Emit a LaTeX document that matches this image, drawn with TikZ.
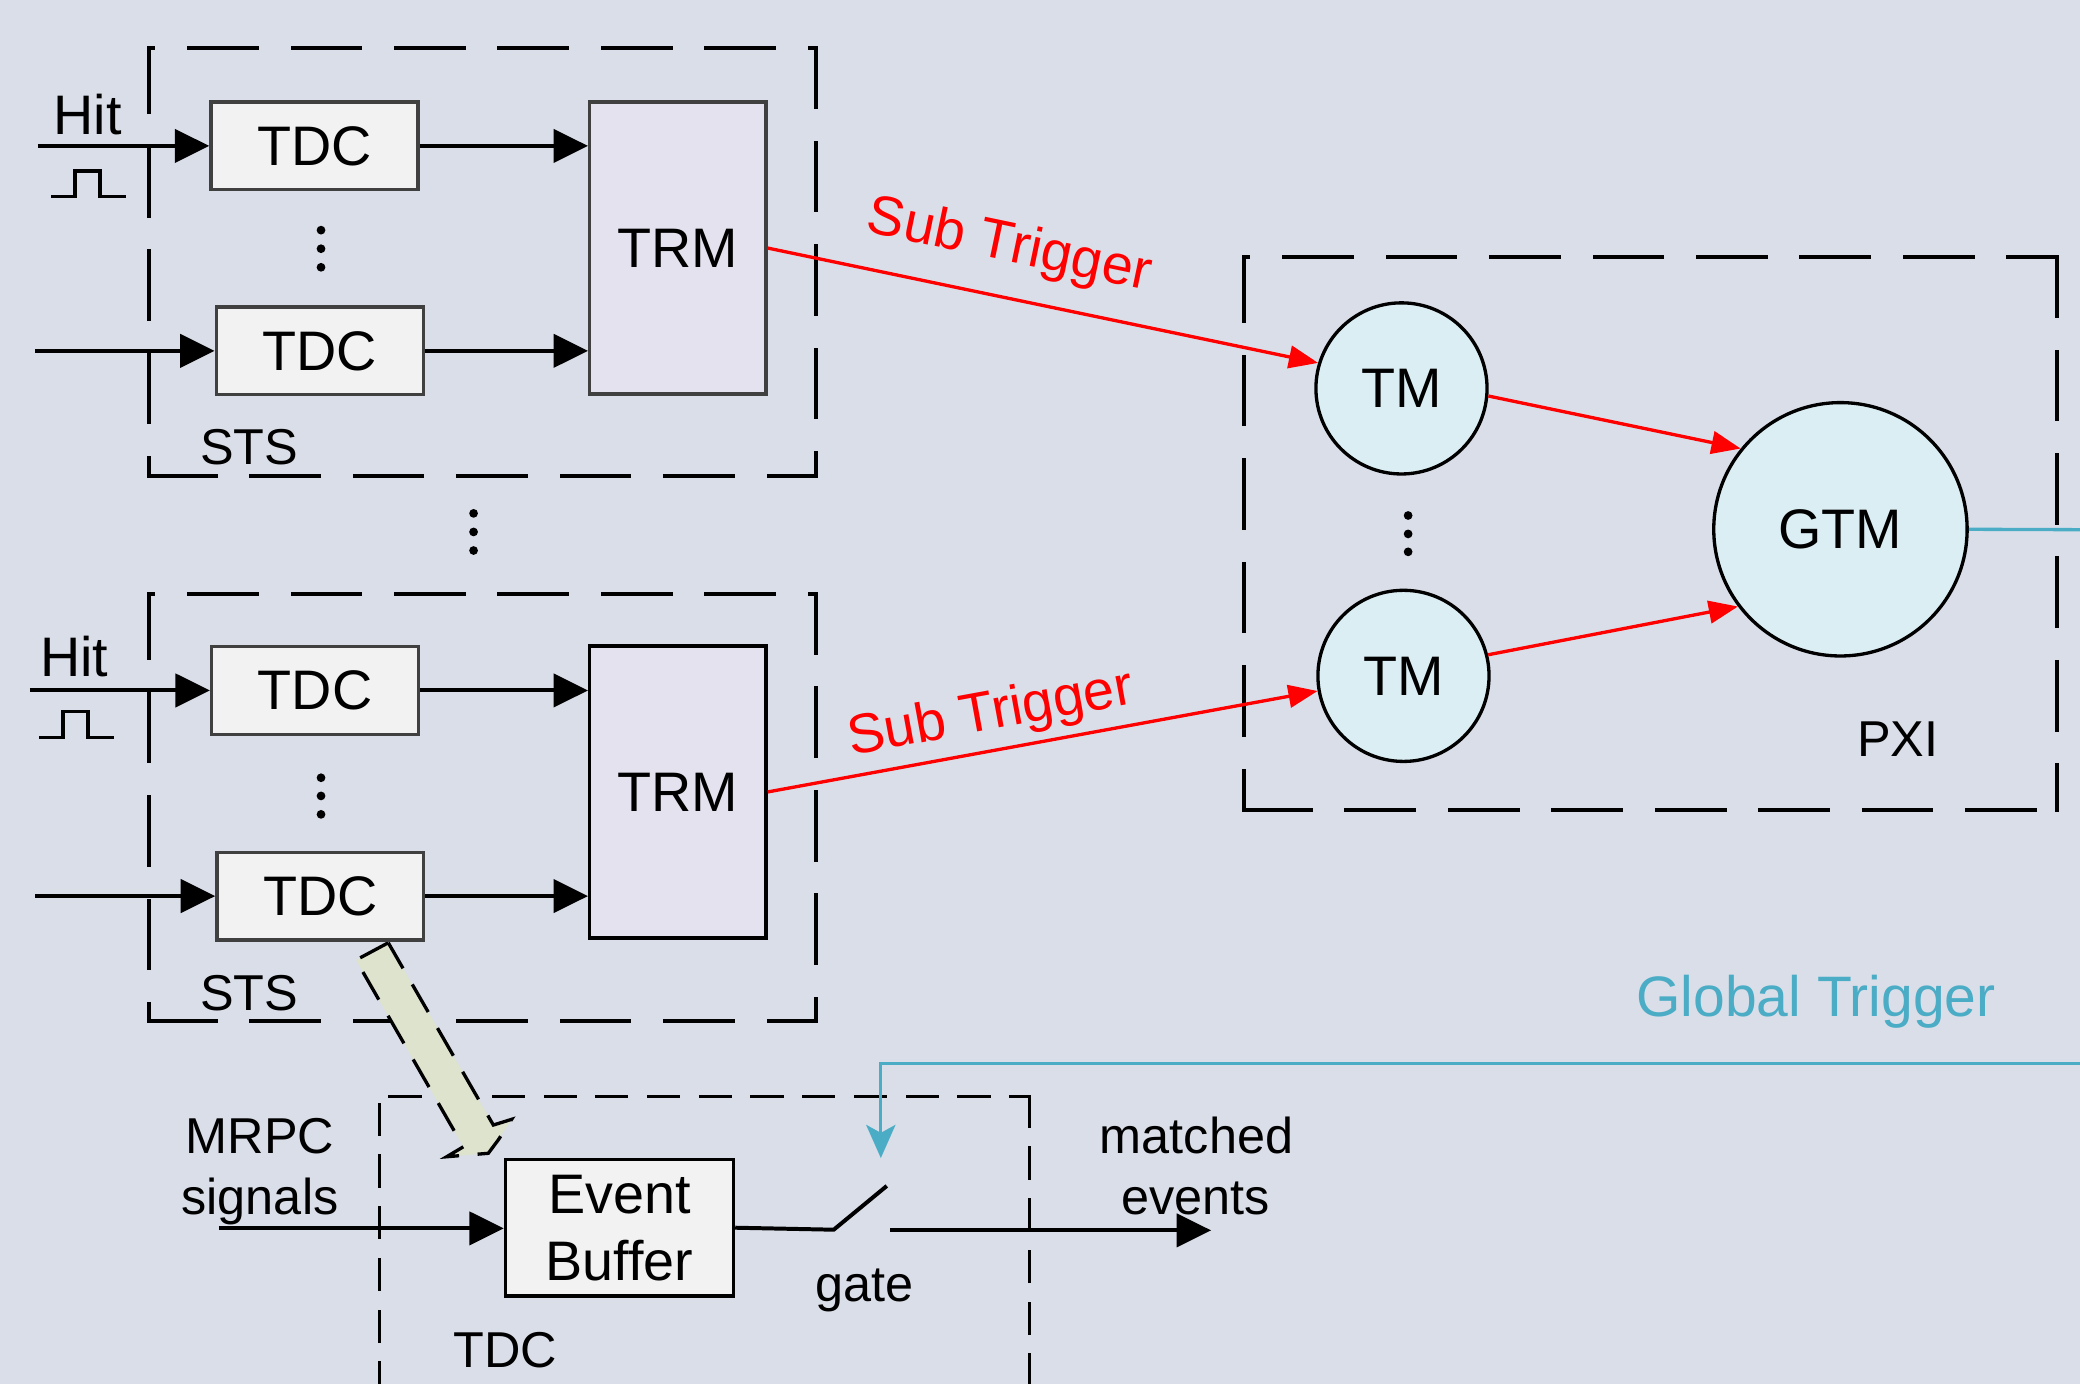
\documentclass[tikz,border=0pt]{standalone}
\usepackage{fontspec}
\setmainfont{Liberation Sans}
\usetikzlibrary{arrows.meta}
\definecolor{paper}{RGB}{218,222,232}
\definecolor{boxfill}{RGB}{242,242,242}
\definecolor{trmfill}{RGB}{228,226,238}
\definecolor{tmfill}{RGB}{219,238,244}
\definecolor{edgegray}{RGB}{64,64,64}
\definecolor{trigblue}{RGB}{75,172,198}
\definecolor{busfill}{RGB}{221,227,204}
\newcommand{\labelfont}{\fontsize{42}{50.4}\selectfont}
\newcommand{\notefont}{\fontsize{38}{45.6}\selectfont}
% a dashed frame whose four sides are dashed one by one
\newcommand{\dashframe}[5]{%
  \draw[#1, dash phase=48pt] (#2,#3) -- (#4,#3);
  \draw[#1, dash phase=3pt] (#2,#3) -- (#2,#5);
  \draw[#1, dash phase=7pt] (#4,#3) -- (#4,#5);
  \draw[#1, dash phase=1pt] (#2,#5) -- (#4,#5);
}
\begin{document}
\begin{tikzpicture}[x=1pt,y=-1pt,
  tdcbox/.style={draw=edgegray, fill=boxfill, line width=2.5pt, minimum width=156pt,
    minimum height=66pt, inner sep=0pt, font=\labelfont},
  trmbox/.style={draw=edgegray, fill=trmfill, line width=2.5pt, minimum width=133pt,
    minimum height=220pt, inner sep=0pt, font=\labelfont},
  tmnode/.style={circle, draw=black, fill=tmfill, line width=2.5pt, minimum size=129pt,
    inner sep=0pt, font=\labelfont},
  gtmnode/.style={tmnode, minimum size=191pt},
  sig/.style={line width=3pt, -{Triangle[length=26pt,width=25pt]}},
  wire/.style={line width=3pt},
  subtrig/.style={red, line width=2.5pt, -{Triangle[length=22pt,width=17pt]}},
  sublabel/.style={sloped, inner sep=0pt, font=\labelfont, text=red},
  trigline/.style={trigblue, line width=2.5pt},
  grpbox/.style={line width=3pt, line cap=rect, dash pattern=on 51pt off 27pt},
  tdcgrp/.style={line width=2.5pt, line cap=rect, dash pattern=on 22.5pt off 16.5pt},
  txt/.style={inner sep=0pt, anchor=base, font=\notefont},
  bigtxt/.style={inner sep=0pt, anchor=base, font=\labelfont},
  pulseline/.style={line width=2.5pt},
  ellipsisdot/.style={fill=black},
]
\useasboundingbox (0,0) rectangle (1568,1043);
\fill[paper] (0,0) rectangle (1568,1043);
\clip (0,0) rectangle (1568,1043);

% dashed group outlines
\dashframe{grpbox}{112.5}{36.5}{615}{359}
\dashframe{grpbox}{112.5}{448}{615}{770}
\dashframe{grpbox}{938}{194}{1550.5}{610.5}
\draw[tdcgrp, dash phase=31pt] (286,826.5) -- (776,826.5);
\draw[tdcgrp, dash phase=33pt] (286,826.5) -- (286,1060);
\draw[tdcgrp, dash phase=0pt] (776,826.5) -- (776,1060);

% data path from the TDC down to the event buffer
\filldraw[fill=busfill, draw=black, line width=2.5pt, dash pattern=on 24pt off 14pt]
  (292.7,710.7) -- (268.4,723.7) -- (349.3,864.5) -- (336.7,872.0) -- (368.1,869.4)
  -- (375.7,859.2) -- (385.7,843.8) -- (371.9,848.1) -- cycle;

% ---- upper STS ----
\node[tdcbox] (tdcA) at (237,110) {TDC};
\node[tdcbox] (tdcB) at (241,264.5) {TDC};
\node[trmbox] (trmA) at (511,187) {TRM};
\node[bigtxt] (hitA) at (66,101.5) {Hit};
\coordinate (inA) at (28.5,110);
\coordinate (inB) at (26.5,264.5);
\draw[sig] (inA) -- (tdcA.west);
\draw[sig] (inB) -- (tdcB.west);
\draw[pulseline] (38.8,148.3) -- (56.5,148.3) -- (56.5,128.9) -- (75.5,128.9)
  -- (75.5,148.3) -- (94.8,148.3);
\draw[sig] (tdcA.east) -- (tdcA.east -| trmA.west);
\draw[sig] (tdcB.east) -- (tdcB.east -| trmA.west);
\foreach \yy in {173.5,187.5,201.5} \fill[ellipsisdot] (242,\yy) circle (3.3pt);
\node[txt] (stsA) at (188,350) {STS};

% dots between the two STS groups
\foreach \yy in {387,401,415} \fill[ellipsisdot] (357,\yy) circle (3.3pt);

% ---- lower STS ----
\node[tdcbox] (tdcC) at (237.5,520.5) {TDC};
\node[tdcbox] (tdcD) at (241.5,675.5) {TDC};
\node[trmbox, draw=black] (trmB) at (511,597) {TRM};
\node[bigtxt] (hitB) at (56,509.6) {Hit};
\coordinate (inC) at (22.5,520.5);
\coordinate (inD) at (26.5,675.5);
\draw[sig] (inC) -- (tdcC.west);
\draw[sig] (inD) -- (tdcD.west);
\draw[pulseline] (29.4,556.1) -- (47.5,556.1) -- (47.5,536.5) -- (66.3,536.5)
  -- (66.3,556.1) -- (85.6,556.1);
\draw[sig] (tdcC.east) -- (tdcC.east -| trmB.west);
\draw[sig] (tdcD.east) -- (tdcD.east -| trmB.west);
\foreach \yy in {586.3,600,613.9} \fill[ellipsisdot] (242,\yy) circle (3.3pt);
\node[txt] (stsB) at (188,761.4) {STS};

% ---- PXI crate ----
\node[tmnode] (tmA) at (1056.5,292.8) {TM};
\node[tmnode] (tmB) at (1058,509.5) {TM};
\node[gtmnode] (gtm) at (1387.4,399) {GTM};
\foreach \yy in {388.6,402.5,416} \fill[ellipsisdot] (1061.5,\yy) circle (3.3pt);
\node[txt] (pxi) at (1430.5,570.4) {PXI};

% sub triggers
\draw[subtrig] (trmA.east) -- node[sublabel, pos=0.42, above=17.2pt] (stA) {Sub Trigger} (tmA.163);
\draw[subtrig] (trmB.east) -- node[sublabel, pos=0.417, above=5.8pt] (stB) {Sub Trigger} (tmB.190.5);
\draw[subtrig] (tmA.-5) -- (gtm.141);
\draw[subtrig] (tmB.14.5) -- (gtm.217.5);

% global trigger
\coordinate (gtmout) at (1568,399.3);
\draw[trigline] (gtm.east) -- (gtmout);
\node[inner sep=0pt, anchor=base, font=\fontsize{43}{50}\selectfont, text=trigblue]
  (gtlabel) at (1369,766.4) {Global Trigger};
\coordinate (gtin) at (1568,801.5);
\coordinate (gatetip) at (664,873);
\draw[trigline, -{Stealth[length=25pt,width=22pt,inset=6pt]}] (gtin) -| (gatetip);

% ---- TDC event buffer and gate ----
\node[tdcbox, draw=black, minimum width=172pt, minimum height=103pt, align=center]
  (eb) at (467,925.5) {Event\\Buffer};
\coordinate (mrpcin) at (165,926);
\draw[sig] (mrpcin) -- (mrpcin -| eb.west);
\node[txt] (mrpcA) at (196,869.6) {MRPC};
\node[txt] (mrpcB) at (196,915.2) {signals};
\coordinate (swA) at (628.5,927);
\coordinate (swB) at (668.5,894);
\coordinate (swC) at (671,927.5);
\coordinate (outE) at (913,927.5);
\draw[wire] (eb.east) -- (swA) -- (swB);
\draw[sig] (swC) -- (outE);
\node[txt] (gate) at (651.5,981) {gate};
\node[txt] (matchA) at (902,869.6) {matched};
\node[txt] (matchB) at (901.5,915.2) {events};
\node[txt] (tdclbl) at (381,1031) {TDC};
\end{tikzpicture}
\end{document}
